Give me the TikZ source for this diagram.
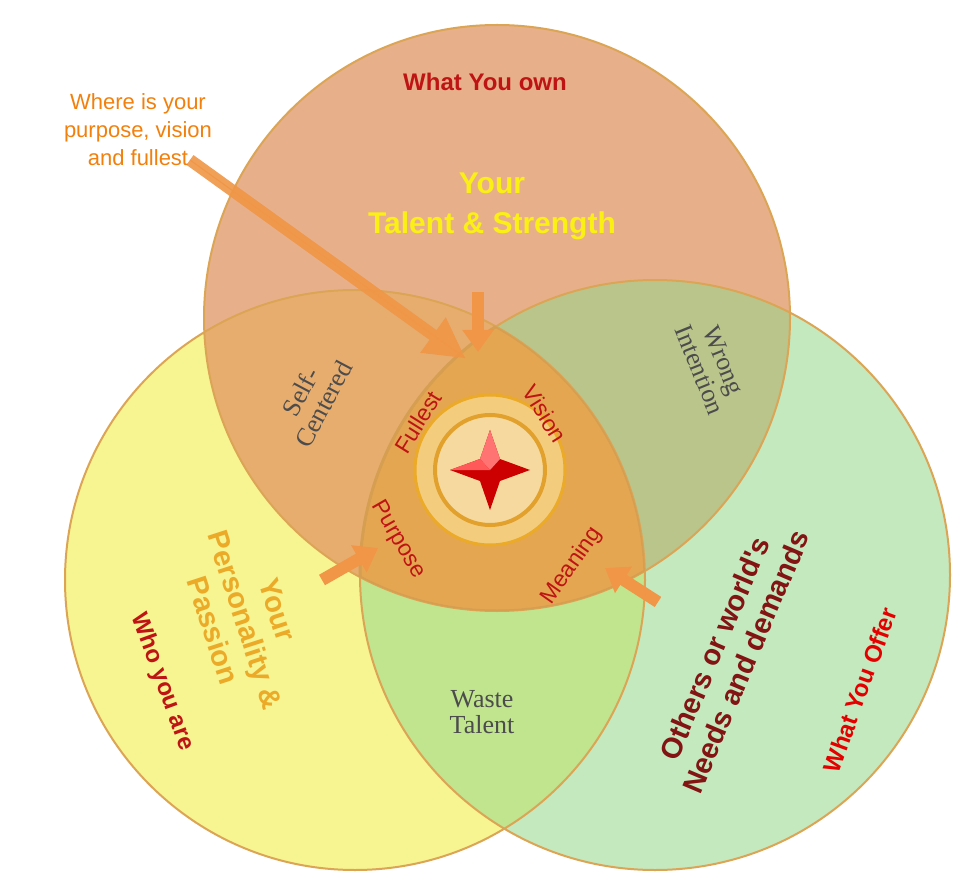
\documentclass[tikz,border=0pt]{standalone}
\usepackage{fontspec}
\setmainfont{Liberation Serif}
\newfontfamily\sansb{Liberation Sans}
\usetikzlibrary{arrows.meta}
\definecolor{topc}{RGB}{225,150,100}
\definecolor{leftc}{RGB}{245,240,100}
\definecolor{rightc}{RGB}{150,215,140}
\definecolor{rim}{RGB}{220,165,85}
\definecolor{core}{RGB}{232,165,80}
\definecolor{arr}{RGB}{240,150,70}
\definecolor{dred}{RGB}{190,20,20}
\definecolor{brn}{RGB}{130,20,20}
\definecolor{yel}{RGB}{250,240,20}
\definecolor{gold}{RGB}{235,170,40}
\tikzset{
 lab/.style={font=\sansb\bfseries, align=center},
 ser/.style={font=\fontsize{26}{26}\selectfont, text=black!70, align=center},
 inn/.style={font=\sansb\fontsize{23}{23}\selectfont, text=dred},
 sarrow/.style={arr, -{Triangle[length=22pt,width=30pt]}, line width=12pt}
}
\begin{document}
\begin{tikzpicture}[x=1pt,y=-1pt]
\useasboundingbox (0,0) rectangle (980,882);
\fill[white] (0,0) rectangle (980,882);
\coordinate (T) at (497,318);
\coordinate (L) at (355,580);
\coordinate (R) at (655,575);
\fill[leftc, opacity=0.7] (L) circle (290);
\fill[topc, opacity=0.75] (T) circle (293);
\fill[rightc, opacity=0.55] (R) circle (295);
\begin{scope}
 \clip (T) circle (293);
 \clip (L) circle (290);
 \fill[core, opacity=0.95] (R) circle (295);
\end{scope}
\draw[rim, line width=2pt] (T) circle (293) (L) circle (290) (R) circle (295);
\begin{scope}
 \clip (T) circle (293);
 \clip (L) circle (290);
 \draw[rim!80!brown, line width=3pt] (R) circle (295);
 \clip (R) circle (295);
 \draw[rim!80!brown, line width=3pt] (T) circle (293) (L) circle (290);
\end{scope}
% emblem
\node[circle, minimum size=150pt, fill=gold!60!white, draw=gold, line width=3pt] (em) at (490,470) {};
\node[circle, minimum size=110pt, fill=gold!45!white, draw=gold!80!brown, line width=4pt] (em2) at (em) {};
\fill[red!80!black] (490,430) -- (500,459) -- (530,470) -- (500,481) -- (490,510) -- (480,481) -- (450,470) -- (480,459) -- cycle;
\fill[red!55] (490,430) -- (500,459) -- (490,470) -- (480,459) -- cycle;
\fill[red!65] (450,470) -- (480,459) -- (490,470) -- cycle;
% big arrow
\coordinate (a1) at (190,160); \coordinate (a1e) at (465,358);
\fill[arr, opacity=0.9] (186.5,164.9) -- (429.5,339.9) -- (420.2,352.8) -- (a1e) -- (445.8,317.2) -- (436.5,330.1) -- (193.5,155.1) -- cycle;
\draw[arr, line width=1pt] (a1) -- (a1e);
\coordinate (b1) at (478,292); \coordinate (b1e) at (478,352);
\draw[sarrow] (b1) -- (b1e);
\coordinate (c1) at (322,580); \coordinate (c1e) at (378,548);
\draw[sarrow] (c1) -- (c1e);
\coordinate (d1) at (658,602); \coordinate (d1e) at (605,568);
\draw[sarrow] (d1) -- (d1e);
% texts
\node[lab, text=dred, font=\sansb\bfseries\fontsize{24}{24}\selectfont] (t1) at (485,82) {What You own};
\node[lab, text=yel, font=\sansb\bfseries\fontsize{30}{40}\selectfont] (t2) at (492,206) {Your\\Talent \& Strength};
\node[font=\sansb\fontsize{22}{28}\selectfont, text=orange!80!brown, align=center] (t3) at (138,130) {Where is your\\purpose, vision\\and fullest};
\node[ser, rotate=62] (sc) at (312,398) {Self-\\Centered};
\node[ser, rotate=-68] (wi) at (712,365) {Wrong\\Intention};
\node[ser] (wt) at (482,712) {Waste\\Talent};
\node[inn, rotate=58] (f) at (418,422) {Fullest};
\node[inn, rotate=-58] (v) at (545,414) {Vision};
\node[inn, rotate=-60] (p) at (398,540) {Purpose};
\node[inn, rotate=55] (m) at (572,566) {Meaning};
\node[lab, text=gold, font=\sansb\bfseries\fontsize{29}{34}\selectfont, rotate=-72] (yp) at (245,620) {Your\\Personality \&\\Passion};
\node[lab, text=dred, font=\sansb\bfseries\fontsize{24}{24}\selectfont, rotate=-70] (wa) at (162,682) {Who you are};
\node[lab, text=brn, font=\sansb\bfseries\fontsize{29}{34}\selectfont, rotate=67] (on) at (730,655) {Others or world's\\Needs and demands};
\node[lab, text=red!90!black, font=\sansb\bfseries\fontsize{24}{24}\selectfont, rotate=70] (wo) at (860,690) {What You Offer};
\end{tikzpicture}
\end{document}
